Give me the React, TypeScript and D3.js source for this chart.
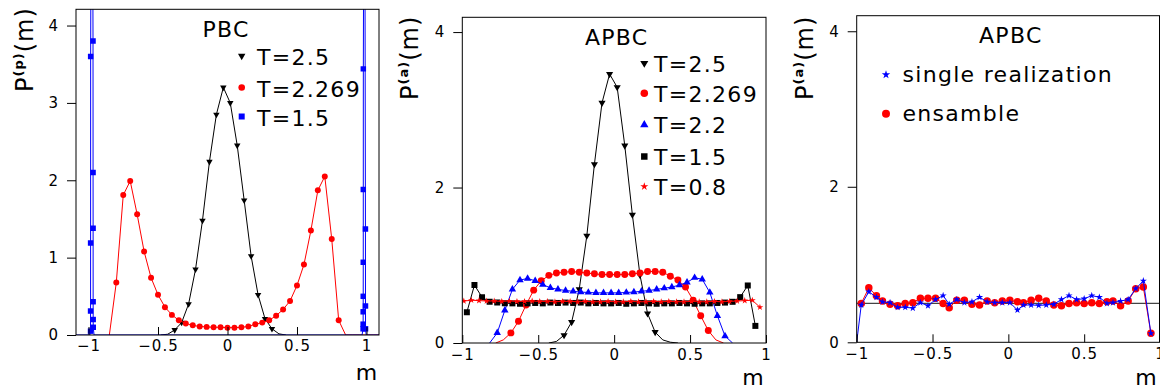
import { useEffect, useRef } from 'react';
import * as d3 from 'd3';

// ---- left panel: PBC ----
const pbcT25M = [-0.48, -0.43, -0.38, -0.33, -0.28, -0.23, -0.18, -0.13, -0.08, -0.03, 0.02, 0.07, 0.12, 0.17, 0.22, 0.27, 0.32, 0.37, 0.42];
const pbcT25P = [0, 0.01, 0.065, 0.16, 0.40, 0.85, 1.48, 2.24, 2.85, 3.20, 3.00, 2.45, 1.74, 1.02, 0.52, 0.21, 0.08, 0.015, 0];

const pbcT2269M = [-0.85, -0.80, -0.75, -0.70, -0.65, -0.60, -0.55, -0.50, -0.45, -0.40, -0.35, -0.30, -0.25, -0.20, -0.15, -0.10, -0.05, 0, 0.05, 0.10, 0.15, 0.20, 0.25, 0.30, 0.35, 0.40, 0.45, 0.50, 0.55, 0.60, 0.65, 0.70, 0.75, 0.80, 0.85, 0.90, 0.95, 1.00, 1.05, 1.10];
const pbcT2269P = [0, 0.68, 1.81, 1.99, 1.56, 1.08, 0.74, 0.52, 0.36, 0.26, 0.19, 0.15, 0.125, 0.11, 0.105, 0.10, 0.10, 0.095, 0.095, 0.10, 0.11, 0.14, 0.16, 0.19, 0.25, 0.33, 0.44, 0.64, 0.91, 1.35, 1.87, 2.05, 1.24, 0.19, 0, 0, 0, 0, 0, 0];

// T=1.5 is squeezed against m = +-1, the peak runs off the top of the frame
const pbcT15M = [-1.10, -0.990, -0.9855, -0.9852, -0.9849, -0.9846, -0.976, -0.9675, -0.9672, -0.9669, -0.9666, -0.9663, -0.9660, -0.960, 0.968, 0.9755, 0.9758, 0.9761, 0.9764, 0.9767, 0.9770, 0.9773, 0.985, 0.9925, 0.9928, 0.9931, 0.998, 1.10];
const pbcT15P = [0, 0, 0.05, 0.31, 1.19, 3.60, 9.0, 3.80, 2.10, 1.38, 0.43, 0.20, 0.10, 0, 0, 0.08, 0.14, 0.30, 0.50, 0.94, 1.88, 3.44, 9.0, 1.37, 0.375, 0.08, 0, 0];

// ---- middle panel: APBC ----
const apbcT25M = [-0.43, -0.38, -0.33, -0.28, -0.23, -0.18, -0.13, -0.08, -0.03, 0.02, 0.07, 0.12, 0.17, 0.22, 0.27, 0.32, 0.37, 0.42];
const apbcT25P = [0, 0.02, 0.10, 0.27, 0.69, 1.38, 2.30, 3.09, 3.46, 3.29, 2.54, 1.65, 0.875, 0.38, 0.14, 0.04, 0.01, 0];

const apbcT2269M = [-0.78, -0.73, -0.68, -0.63, -0.58, -0.53, -0.48, -0.43, -0.38, -0.33, -0.28, -0.23, -0.18, -0.13, -0.08, -0.03, 0.02, 0.07, 0.12, 0.17, 0.22, 0.27, 0.32, 0.37, 0.42, 0.47, 0.52, 0.57, 0.62, 0.67, 0.72];
const apbcT2269P = [0, 0.04, 0.13, 0.28, 0.49, 0.68, 0.80, 0.87, 0.90, 0.91, 0.92, 0.91, 0.90, 0.89, 0.88, 0.88, 0.88, 0.88, 0.89, 0.90, 0.92, 0.92, 0.91, 0.86, 0.81, 0.72, 0.55, 0.35, 0.16, 0.04, 0];

const apbcT22M = [-0.82, -0.77, -0.72, -0.67, -0.62, -0.57, -0.52, -0.47, -0.42, -0.37, -0.32, -0.27, -0.22, -0.17, -0.12, -0.07, -0.02, 0.03, 0.08, 0.13, 0.18, 0.23, 0.28, 0.33, 0.38, 0.43, 0.48, 0.53, 0.58, 0.63, 0.68, 0.73, 0.78];
const apbcT22P = [0, 0.13, 0.42, 0.69, 0.81, 0.83, 0.80, 0.75, 0.71, 0.69, 0.675, 0.665, 0.655, 0.65, 0.645, 0.645, 0.645, 0.645, 0.65, 0.655, 0.665, 0.675, 0.69, 0.705, 0.72, 0.745, 0.78, 0.84, 0.82, 0.65, 0.35, 0.09, 0];

const apbcT15M = [-0.97, -0.92, -0.87, -0.82, -0.77, -0.72, -0.67, -0.62, -0.57, -0.52, -0.47, -0.42, -0.37, -0.32, -0.27, -0.22, -0.17, -0.12, -0.07, -0.02, 0.03, 0.08, 0.13, 0.18, 0.23, 0.28, 0.33, 0.38, 0.43, 0.48, 0.53, 0.58, 0.63, 0.68, 0.73, 0.78, 0.83, 0.88, 0.93];
const apbcT15P = [0.395, 0.745, 0.59, 0.53, 0.52, 0.51, 0.51, 0.505, 0.51, 0.515, 0.51, 0.52, 0.515, 0.52, 0.515, 0.52, 0.51, 0.515, 0.51, 0.51, 0.515, 0.505, 0.51, 0.515, 0.51, 0.505, 0.51, 0.51, 0.515, 0.51, 0.505, 0.51, 0.51, 0.515, 0.52, 0.53, 0.59, 0.74, 0.22];

const apbcT08M = [-0.99, -0.94, -0.89, -0.84, -0.79, -0.74, -0.69, -0.64, -0.59, -0.54, -0.49, -0.44, -0.39, -0.34, -0.29, -0.24, -0.19, -0.14, -0.09, -0.04, 0.01, 0.06, 0.11, 0.16, 0.21, 0.26, 0.31, 0.36, 0.41, 0.46, 0.51, 0.56, 0.61, 0.66, 0.71, 0.76, 0.81, 0.86, 0.91, 0.96];
const apbcT08P = [0.54, 0.55, 0.545, 0.54, 0.54, 0.535, 0.54, 0.535, 0.535, 0.54, 0.535, 0.535, 0.53, 0.535, 0.535, 0.53, 0.535, 0.53, 0.53, 0.535, 0.53, 0.53, 0.535, 0.53, 0.53, 0.535, 0.53, 0.535, 0.53, 0.53, 0.535, 0.53, 0.53, 0.535, 0.53, 0.535, 0.54, 0.545, 0.55, 0.46];

// ---- right panel: single realization vs ensamble ----
const ensM = [-0.97, -0.92, -0.87, -0.83, -0.78, -0.73, -0.68, -0.63, -0.58, -0.53, -0.48, -0.43, -0.39, -0.34, -0.29, -0.24, -0.19, -0.14, -0.09, -0.04, 0.01, 0.06, 0.10, 0.15, 0.20, 0.25, 0.30, 0.35, 0.40, 0.45, 0.50, 0.55, 0.60, 0.65, 0.69, 0.74, 0.79, 0.84, 0.89, 0.94];
const ensP = [0.50, 0.70, 0.60, 0.53, 0.49, 0.47, 0.50, 0.51, 0.565, 0.565, 0.565, 0.50, 0.445, 0.54, 0.54, 0.49, 0.48, 0.53, 0.51, 0.53, 0.54, 0.52, 0.51, 0.54, 0.565, 0.53, 0.48, 0.47, 0.50, 0.51, 0.50, 0.51, 0.50, 0.52, 0.53, 0.47, 0.53, 0.69, 0.71, 0.115];
const singleM = [-1.0, -0.97, -0.92, -0.87, -0.83, -0.78, -0.73, -0.68, -0.63, -0.58, -0.53, -0.48, -0.43, -0.39, -0.34, -0.29, -0.24, -0.19, -0.14, -0.09, -0.04, 0.01, 0.06, 0.10, 0.15, 0.20, 0.25, 0.30, 0.35, 0.40, 0.45, 0.50, 0.55, 0.60, 0.65, 0.69, 0.74, 0.79, 0.84, 0.89, 0.94];
const singleP = [0, 0.48, 0.65, 0.58, 0.52, 0.51, 0.45, 0.45, 0.44, 0.51, 0.47, 0.55, 0.60, 0.49, 0.55, 0.51, 0.52, 0.58, 0.52, 0.51, 0.51, 0.51, 0.415, 0.48, 0.48, 0.475, 0.48, 0.49, 0.55, 0.60, 0.55, 0.56, 0.60, 0.58, 0.50, 0.51, 0.53, 0.55, 0.69, 0.79, 0.115];
const uniformLevel = 0.5;

const xTicks = [-1, -0.5, 0, 0.5, 1];

const FONT = "'DejaVu Sans', 'Liberation Sans', sans-serif";

type Series = {
  m: number[];
  p: number[];
  color: string;
  symbol: d3.SymbolType;
  size: number;
  flip?: boolean;
  label: string;
};

type Panel = {
  id: string;
  left: number; right: number; top: number; bottom: number; frameRight?: number;
  xDomain: [number, number];
  yDomain: [number, number];
  yTicks: number[];
  sup: string;
  yLabelAt: [number, number];
  mLabelAt: [number, number];
  xLabelPad: number;
  title: string;
  titleAt: [number, number];
  markerX: number;
  textX: number;
  rowY: number[];
  markerDy: number;
  series: Series[];
  legend: Series[];
  hLine?: number;
};

const s = (m, p, color, symbol, size, label, flip = false): Series => ({ m, p, color, symbol, size, label, flip });

const p1Series = [
  s(pbcT25M, pbcT25P, '#000', d3.symbolTriangle, 18, 'T=2.5', true),
  s(pbcT2269M, pbcT2269P, '#ff0000', d3.symbolCircle, 28, 'T=2.269'),
  s(pbcT15M, pbcT15P, '#0000ff', d3.symbolSquare, 30, 'T=1.5'),
];
const p2Series = [
  s(apbcT25M, apbcT25P, '#000', d3.symbolTriangle, 22, 'T=2.5', true),
  s(apbcT2269M, apbcT2269P, '#ff0000', d3.symbolCircle, 38, 'T=2.269'),
  s(apbcT22M, apbcT22P, '#0000ff', d3.symbolTriangle, 24, 'T=2.2'),
  s(apbcT15M, apbcT15P, '#000', d3.symbolSquare, 36, 'T=1.5'),
  s(apbcT08M, apbcT08P, '#ff0000', d3.symbolStar, 14, 'T=0.8'),
];
const singleSeries = s(singleM, singleP, '#0000ff', d3.symbolStar, 16, 'single realization');
const ensSeries = s(ensM, ensP, '#ff0000', d3.symbolCircle, 44, 'ensamble');

const panels: Panel[] = [
  {
    id: 'pbc', left: 76, right: 379, top: 9.3, bottom: 335,
    xDomain: [-1.09, 1.09], yDomain: [0, 4.21], yTicks: [0, 1, 2, 3, 4],
    sup: '(p)', yLabelAt: [33, 92], mLabelAt: [366.5, 380], xLabelPad: 5.5,
    title: 'PBC', titleAt: [226, 36.7], markerX: 241.7, textX: 257, rowY: [65, 96.5, 125.5], markerDy: 9,
    series: p1Series, legend: p1Series,
  },
  {
    id: 'apbc', left: 462.3, right: 766, top: 17.3, bottom: 343,
    xDomain: [-1, 1], yDomain: [0, 4.19], yTicks: [0, 2, 4],
    sup: '(a)', yLabelAt: [418, 100], mLabelAt: [753, 385], xLabelPad: 6,
    title: 'APBC', titleAt: [616.7, 45], markerX: 644.3, textX: 654, rowY: [71.7, 101.7, 133.3, 165, 195], markerDy: 8.5,
    series: p2Series, legend: p2Series,
  },
  {
    id: 'single', left: 856.7, right: 1160, frameRight: 1159.5, top: 15.7, bottom: 342.3,
    xDomain: [-1, 1], yDomain: [0, 4.2], yTicks: [0, 2, 4],
    sup: '(a)', yLabelAt: [813, 100], mLabelAt: [1146, 385], xLabelPad: 6,
    title: 'APBC', titleAt: [1010.8, 43.3], markerX: 886, textX: 902.5, rowY: [81.7, 120.7], markerDy: 7,
    series: [ensSeries, singleSeries], legend: [singleSeries, ensSeries], hLine: uniformLevel,
  },
];

function drawPanel(svg, cfg: Panel) {
  const x = d3.scaleLinear().domain(cfg.xDomain).range([cfg.left, cfg.right]);
  const y = d3.scaleLinear().domain(cfg.yDomain).range([cfg.bottom, cfg.top]);
  const frameRight = cfg.frameRight ?? cfg.right;

  const g = svg.append('g').attr('font-family', FONT);

  g.append('clipPath').attr('id', `clip-${cfg.id}`)
    .append('rect')
    .attr('x', cfg.left).attr('y', cfg.top)
    .attr('width', frameRight - cfg.left).attr('height', cfg.bottom - cfg.top);

  const plot = g.append('g').attr('clip-path', `url(#clip-${cfg.id})`);

  if (cfg.hLine != null) {
    plot.append('line')
      .attr('x1', cfg.left).attr('x2', frameRight)
      .attr('y1', y(cfg.hLine)).attr('y2', y(cfg.hLine))
      .attr('stroke', '#444').attr('stroke-width', 1.2);
  }

  const line = d3.line<number[]>().x(d => x(d[0])).y(d => y(d[1]));

  cfg.series.forEach(ser => {
    const pts = ser.m.map((m, i) => [m, ser.p[i]]);
    plot.append('path')
      .datum(pts)
      .attr('d', line)
      .attr('fill', 'none')
      .attr('stroke', ser.color)
      .attr('stroke-width', 1);

    plot.append('g')
      .selectAll('path')
      .data(pts.filter(d => d[1] >= 0.05))
      .join('path')
      .attr('transform', d => `translate(${x(d[0])},${y(d[1])})${ser.flip ? ' rotate(180)' : ''}`)
      .attr('d', d3.symbol(ser.symbol, ser.size)())
      .attr('fill', ser.color);
  });

  // frame
  g.append('rect')
    .attr('x', cfg.left).attr('y', cfg.top)
    .attr('width', frameRight - cfg.left).attr('height', cfg.bottom - cfg.top)
    .attr('fill', 'none').attr('stroke', '#000').attr('stroke-width', 1);

  // X axis, ticks pointing into the frame
  const xAxis = g.append('g')
    .attr('transform', `translate(0,${cfg.bottom})`)
    .call(d3.axisBottom(x).tickValues(xTicks).tickSize(-8).tickSizeOuter(0)
      .tickPadding(cfg.xLabelPad).tickFormat(d3.format('')));
  xAxis.select('.domain').remove();
  xAxis.attr('font-family', FONT).attr('font-size', 15);
  xAxis.selectAll('text').attr('fill', '#000').attr('letter-spacing', 1);
  xAxis.selectAll('line').attr('stroke', '#000');

  // Y axis, ticks outside
  const yAxis = g.append('g')
    .attr('transform', `translate(${cfg.left},0)`)
    .call(d3.axisLeft(y).tickValues(cfg.yTicks).tickSize(9).tickSizeOuter(0)
      .tickPadding(9).tickFormat(d3.format('')));
  yAxis.select('.domain').remove();
  yAxis.attr('font-family', FONT).attr('font-size', 15);
  yAxis.selectAll('text').attr('fill', '#000');
  yAxis.selectAll('line').attr('stroke', '#000');

  // Y label P^(p)(m)
  const yl = g.append('text')
    .attr('transform', `translate(${cfg.yLabelAt[0]},${cfg.yLabelAt[1]}) rotate(-90)`)
    .attr('font-size', 24)
    .attr('letter-spacing', 1);
  yl.append('tspan').text('P');
  yl.append('tspan').attr('font-size', 13).attr('font-weight', 'bold').attr('dy', -10).text(cfg.sup);
  yl.append('tspan').attr('dy', 10).text('(m)');

  // X label
  g.append('text')
    .attr('x', cfg.mLabelAt[0]).attr('y', cfg.mLabelAt[1])
    .attr('text-anchor', 'middle')
    .attr('font-size', 22)
    .text('m');

  // Title + legend
  g.append('text')
    .attr('x', cfg.titleAt[0]).attr('y', cfg.titleAt[1])
    .attr('text-anchor', 'middle')
    .attr('font-size', 22)
    .attr('letter-spacing', 1.3)
    .text(cfg.title);

  cfg.legend.forEach((ser, i) => {
    const ry = cfg.rowY[i];
    g.append('path')
      .attr('transform', `translate(${cfg.markerX},${ry - cfg.markerDy})${ser.flip ? ' rotate(180)' : ''}`)
      .attr('d', d3.symbol(ser.symbol, ser.size + 6)())
      .attr('fill', ser.color);
    g.append('text')
      .attr('x', cfg.textX).attr('y', ry)
      .attr('font-size', 22)
      .attr('letter-spacing', 1.3)
      .text(ser.label);
  });
}

export default function App() {
  const svgRef = useRef<SVGSVGElement>(null);

  useEffect(() => {
    const svg = d3.select(svgRef.current);
    svg.selectAll('*').remove();
    panels.forEach(p => drawPanel(svg, p));
  }, []);

  return (
    <svg
      ref={svgRef}
      width={1160}
      height={390}
      style={{ position: 'absolute', left: 0, top: 0, background: '#fff' }}
    />
  );
}
